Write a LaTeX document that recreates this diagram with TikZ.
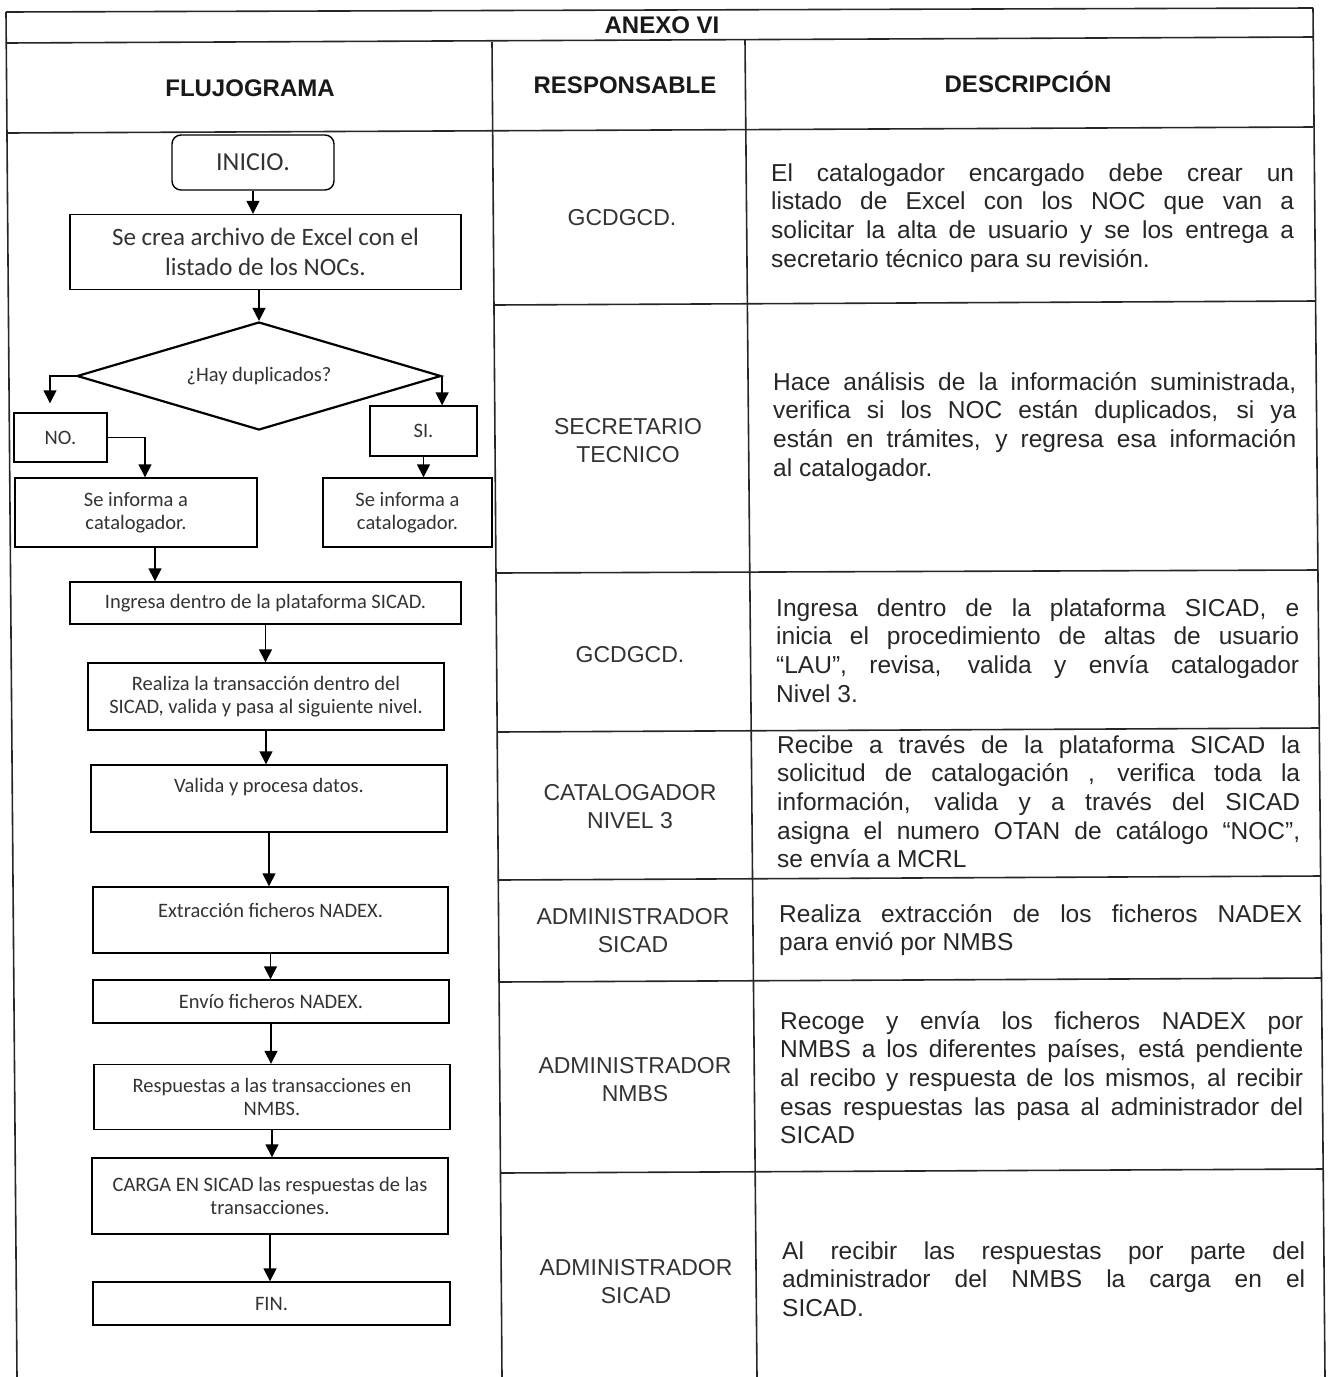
\documentclass[tikz,border=0pt]{standalone}
\usepackage{fontspec}
\setmainfont{Liberation Sans}
\newfontfamily\flowf{Carlito}
\usetikzlibrary{shapes.geometric,arrows.meta,calc}
\newlength\dw \setlength\dw{523pt}
\newcommand\jl[1]{\makebox[\dw][s]{#1}}
\newcommand\desctext[1]{\parbox[t]{\dw}{\fontsize{24.5}{28.7}\selectfont #1}}
\begin{document}
\begin{tikzpicture}[x=1pt,y=-1pt,
  fbox/.style={draw, line width=1.4pt, inner sep=0pt, align=center, font=\flowf\fontsize{20.5}{23.5}\selectfont, text=black!80},
  ftext/.style={inner sep=0pt, font=\flowf\fontsize{20.5}{23.5}\selectfont, text=black!80},
  arr/.style={line width=1.4pt, -{Triangle[length=13pt,width=13pt]}},
  tline/.style={line width=1.6pt, black!85},
  resp/.style={align=center, font=\fontsize{23}{28}\selectfont, text=black!80, inner sep=0pt},
  head/.style={font=\bfseries\fontsize{24}{28}\selectfont, inner sep=0pt, text=black!90},
  desc/.style={anchor=base west, inner sep=0pt, text=black!85}]
\useasboundingbox (0,0) rectangle (1329,1377);
% table lines
\draw[tline] (6,12) -- (1313,8);
\draw[tline] (6,43) -- (1313,37);
\draw[tline] (7,133) -- (1313,127);
\draw[tline] (6,12) -- (17,1377);
\draw[tline] (492,42) -- (502,1377);
\draw[tline] (745,40) -- (757,1377);
\draw[tline] (1313,8) -- (1325,1377);
\draw[tline] (494,305) -- (1316,301);
\draw[tline] (496,573) -- (1318,570);
\draw[tline] (497,732) -- (1319,728);
\draw[tline] (498,880) -- (1321,876);
\draw[tline] (499,982) -- (1322,978);
\draw[tline] (501,1173) -- (1323,1169);
% headers
\node[head] (anexo) at (662,25) {ANEXO VI};
\node[head] (hflu) at (250,88) {FLUJOGRAMA};
\node[head] (hres) at (625,85) {RESPONSABLE};
\node[head] (hdes) at (1028,82) {DESCRIPCIÓN};
% responsables
\node[resp] (r1) at (622,218) {GCDGCD.};
\node[resp] (r2) at (628,441) {SECRETARIO\\TECNICO};
\node[resp] (r3) at (630,655) {GCDGCD.};
\node[resp] (r4) at (630,807) {CATALOGADOR\\NIVEL 3};
\node[resp] (r5) at (633,931) {ADMINISTRADOR\\SICAD};
\node[resp] (r6) at (635,1080) {ADMINISTRADOR\\NMBS};
\node[resp] (r7) at (636,1282) {ADMINISTRADOR\\SICAD};
% descriptions
\node[desc] (d1) at (771,181) {\desctext{\jl{El catalogador encargado debe crear un}\\ \jl{listado de Excel con los NOC que van a}\\ \jl{solicitar la alta de usuario y se los entrega a}\\ secretario técnico para su revisión.}};
\node[desc] (d2) at (773,390) {\desctext{\jl{Hace análisis de la información suministrada,}\\ \jl{verifica si los NOC están duplicados, si ya}\\ \jl{están en trámites, y regresa esa información}\\ al catalogador.}};
\node[desc] (d3) at (776,616) {\desctext{\jl{Ingresa dentro de la plataforma SICAD, e}\\ \jl{inicia el procedimiento de altas de usuario}\\ \jl{“LAU”, revisa, valida y envía catalogador}\\ Nivel 3.}};
\node[desc] (d4) at (777,753) {\desctext{\jl{Recibe a través de la plataforma SICAD la}\\ \jl{solicitud de catalogación , verifica toda la}\\ \jl{información, valida y a través del SICAD}\\ \jl{asigna el numero OTAN de catálogo “NOC”,}\\ se envía a MCRL}};
\node[desc] (d5) at (779,922) {\desctext{\jl{Realiza extracción de los ficheros NADEX}\\ para envió por NMBS}};
\node[desc] (d6) at (780,1029) {\desctext{\jl{Recoge y envía los ficheros NADEX por}\\ \jl{NMBS a los diferentes países, está pendiente}\\ \jl{al recibo y respuesta de los mismos, al recibir}\\ \jl{esas respuestas las pasa al administrador del}\\ SICAD}};
\node[desc] (d7) at (782,1259) {\desctext{\jl{Al recibir las respuestas por parte del}\\ \jl{administrador del NMBS la carga en el}\\ SICAD.}};
% flowchart
\node[fbox, rounded corners=9pt, minimum width=162pt, minimum height=55pt, font=\flowf\fontsize{26}{30}\selectfont] (ini) at (253,162.5) {INICIO.};
\node[fbox, minimum width=391pt, minimum height=75pt, font=\flowf\fontsize{25}{30}\selectfont] (exc) at (265.5,252) {Se crea archivo de Excel con el\\listado de los NOCs.};
\node[draw, diamond, aspect=3.37, line width=2.2pt, minimum width=364pt, minimum height=108pt, inner sep=0pt, font=\flowf\fontsize{20.5}{23.5}\selectfont, text=black!80] (dup) at (259,376) {¿Hay duplicados?};
\node[fbox, minimum width=93pt, minimum height=49pt] (no) at (60.5,437.5) {NO.};
\node[fbox, minimum width=107pt, minimum height=50pt] (si) at (423.5,431) {SI.};
\node[fbox, minimum width=242pt, minimum height=69pt] (inf1) at (136,512.5) {Se informa a\\catalogador.};
\node[fbox, minimum width=169pt, minimum height=69pt] (inf2) at (407.5,512.5) {Se informa a\\catalogador.};
\node[fbox, minimum width=391pt, minimum height=42pt] (ing) at (265.5,603) {Ingresa dentro de la plataforma SICAD.};
\node[fbox, minimum width=356pt, minimum height=67pt] (rea) at (266,696.5) {Realiza la transacción dentro del\\SICAD, valida y pasa al siguiente nivel.};
\node[fbox, minimum width=356pt, minimum height=67pt] (val) at (269,798.5) {};
\node[ftext] (valt) at (269,787) {Valida y procesa datos.};
\node[fbox, minimum width=355pt, minimum height=66pt] (ext) at (270.5,920) {};
\node[ftext] (extt) at (270.5,910) {Extracción ficheros NADEX.};
\node[fbox, minimum width=356pt, minimum height=43pt] (env) at (271,1001.5) {Envío ficheros NADEX.};
\node[fbox, minimum width=356pt, minimum height=65pt] (res) at (272,1097) {Respuestas a las transacciones en\\NMBS.};
\node[fbox, minimum width=356pt, minimum height=76pt] (car) at (270,1196) {CARGA EN SICAD las respuestas de las\\transacciones.};
\node[fbox, minimum width=357pt, minimum height=43pt] (fin) at (271.5,1303.5) {FIN.};
% connectors
\draw[arr] (ini.south) -- (ini.south |- exc.north);
\draw[arr] (dup.north |- exc.south) -- (dup.north);
\coordinate (noin) at ($(no.north)+(-10.5,0)$);
\draw[arr, shorten >=9pt] (dup.west) -| (noin);
\coordinate (inf1in) at ($(inf1.north)+(9,0)$);
\draw[arr] (no.east) -| (inf1in);
\draw[arr] (dup.east) -- (dup.east |- si.north);
\draw[arr] (si.south) -- (si.south |- inf2.north);
\coordinate (c1) at ($(inf1.south)+(19,0)$);
\draw[arr] (c1) -- (c1 |- ing.north);
\draw[arr] (ing.south) -- (ing.south |- rea.north);
\draw[arr] (rea.south) -- (rea.south |- val.north);
\draw[arr] (val.south) -- (val.south |- ext.north);
\draw[arr] (ext.south) -- (ext.south |- env.north);
\draw[arr] (env.south) -- (env.south |- res.north);
\draw[arr] (res.south) -- (res.south |- car.north);
\draw[arr] (car.south) -- (car.south |- fin.north);
\end{tikzpicture}
\end{document}
